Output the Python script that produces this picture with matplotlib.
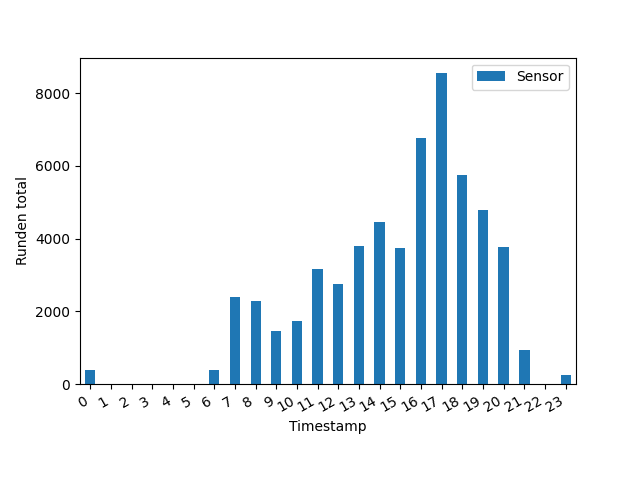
import matplotlib
matplotlib.use("Agg")
import matplotlib.pyplot as plt

hours = list(range(24))
sensor = [385, 0, 0, 0, 0, 0, 385, 2393, 2283, 1458, 1733, 3163, 2750, 3795,
          4455, 3740, 6765, 8553, 5748, 4785, 3768, 935, 0, 248]
yticks = [0, 2000, 4000, 6000, 8000]

fig, ax = plt.subplots(figsize=(6.4, 4.8), dpi=100)
ax.bar(hours, sensor, width=0.5, color="#1f77b4", label="Sensor")
ax.set_xlim(-0.5, 23.5)
ax.set_xticks(hours)
ax.set_xticklabels([str(h) for h in hours])
ax.set_yticks(yticks)
ax.set_xlabel("Timestamp")
ax.set_ylabel("Runden total")
ax.legend(loc="upper right")
fig.autofmt_xdate()
fig.savefig("out.png")
